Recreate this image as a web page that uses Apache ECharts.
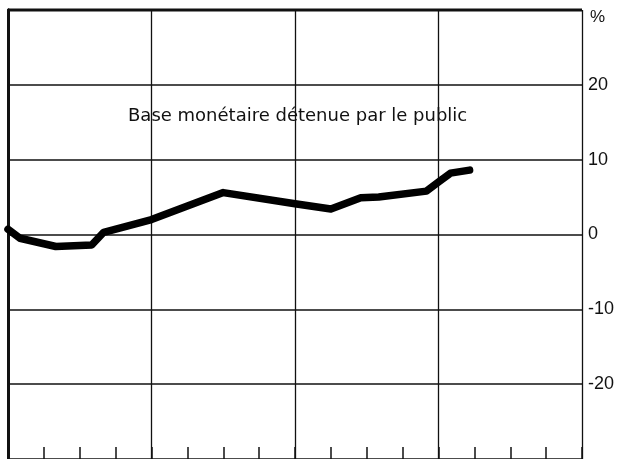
<!DOCTYPE html>
<html>
<head>
<meta charset="utf-8">
<script src="https://cdn.jsdelivr.net/npm/echarts@6/dist/echarts.min.js"></script>
<style>
  html, body { margin: 0; padding: 0; background: #fff; }
  #chart { width: 634px; height: 459px; }
</style>
</head>
<body>
<div id="chart"></div>
<script>
// mois depuis le début de la période (4 années de 12 mois)
var months = [0, 1, 4, 7, 8, 12, 18, 24, 27, 28, 29.5, 31, 35, 36, 37, 38.6];
// variation en %
var values = [0.7, -0.5, -1.6, -1.4, 0.3, 2.0, 5.6, 4.1, 3.4, 4.0, 4.9, 5.0, 5.8, 7.0, 8.2, 8.6];
var yTicks = [-30, -20, -10, 0, 10, 20, 30];
var seriesName = "Base monétaire détenue par le public";

var myChart = echarts.init(document.getElementById("chart"));

var lineData = months.map(function (m, i) { return [m, values[i]]; });

var option = {
    animation: false,
    backgroundColor: "#fff",
    grid: { left: 8, right: 52, top: 10, height: 451 },
    xAxis: {
        type: "value",
        min: 0,
        max: 48,
        interval: 12,
        axisLine: { show: false, onZero: false },
        axisLabel: { show: false },
        axisTick: { show: true, inside: true, length: 12, lineStyle: { color: "#111", width: 1.5 } },
        minorTick: { show: true, splitNumber: 4, length: 12, lineStyle: { color: "#111", width: 1.5 } },
        splitLine: { show: true, lineStyle: { color: "#111", width: 1.3 } }
    },
    yAxis: [
        {
            type: "value",
            position: "right",
            min: yTicks[0],
            max: yTicks[yTicks.length - 1],
            interval: 10,
            axisLine: { show: true, lineStyle: { color: "#111", width: 3 } },
            axisTick: { show: false },
            splitLine: { show: true, lineStyle: { color: "#111", width: 1.6 } },
            axisLabel: {
                margin: 6,
                color: "#111",
                fontSize: 18,
                fontFamily: "Liberation Sans",
                showMinLabel: false,
                formatter: function (v) {
                    if (v === 30) return "{p|%}";
                    if (v === -30) return "";
                    return String(v);
                },
                rich: { p: { fontSize: 17, fontFamily: "Liberation Sans", color: "#111", padding: [14, 0, 0, 2] } }
            }
        },
        {
            type: "value",
            position: "left",
            min: yTicks[0],
            max: yTicks[yTicks.length - 1],
            axisLine: { show: true, lineStyle: { color: "#111", width: 3 } },
            axisTick: { show: false },
            axisLabel: { show: false },
            splitLine: { show: false }
        }
    ],
    graphic: [
        {
            type: "line",
            shape: { x1: 8, y1: 10, x2: 582, y2: 10 },
            style: { stroke: "#111", lineWidth: 3 }
        },
        {
            type: "text",
            left: 128,
            top: 107,
            style: {
                text: seriesName,
                fill: "#111",
                fontSize: 18,
                fontFamily: "DejaVu Sans"
            }
        }
    ],
    series: [
        {
            name: seriesName,
            type: "line",
            data: lineData,
            showSymbol: false,
            symbol: "none",
            lineStyle: { color: "#000", width: 7.5, cap: "round", join: "round" }
        }
    ]
};

myChart.setOption(option);
</script>
</body>
</html>
